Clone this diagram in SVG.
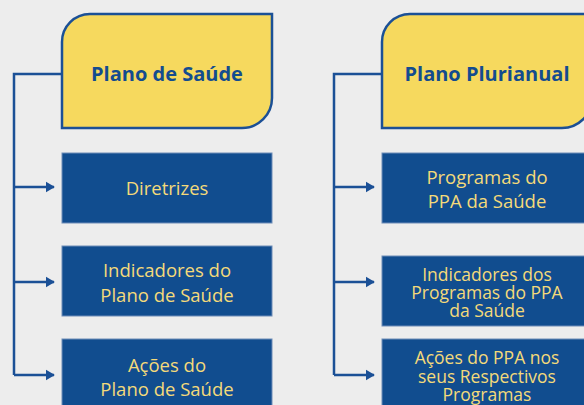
<svg xmlns="http://www.w3.org/2000/svg" width="584" height="405" viewBox="0 0 584 405">
<defs>
<style>
.title{fill:#F6D95E;stroke:#1B5096;stroke-width:2.5}
.box{fill:#114D8F;stroke:#6E8DB8;stroke-width:1}
.tt{font-family:"Open Sans","Liberation Sans",sans-serif;font-weight:bold;font-size:20px;fill:#134C8F;text-anchor:middle}
.bt{font-family:"Open Sans","Liberation Sans",sans-serif;font-size:18.5px;fill:#F4DA7A;text-anchor:middle}
.bt3{font-family:"Open Sans","Liberation Sans",sans-serif;font-size:17.5px;fill:#F4DA7A;text-anchor:middle}
.con{fill:none;stroke:#1B5096;stroke-width:2.5}
</style>
<marker id="ah" viewBox="0 0 10 12" refX="9" refY="6" markerWidth="9" markerHeight="12" markerUnits="userSpaceOnUse" orient="auto">
<path d="M0,0 L10,6 L0,12 Z" fill="#1B5096"/>
</marker>
</defs>
<rect width="584" height="405" fill="#EDEDED"/>
<g id="connectors">
<path class="con" d="M62,74 H14 V375"/>
<path class="con" d="M14,187 H54" marker-end="url(#ah)"/>
<path class="con" d="M14,282 H54" marker-end="url(#ah)"/>
<path class="con" d="M14,375 H54" marker-end="url(#ah)"/>
<path class="con" d="M382,74 H334 V375"/>
<path class="con" d="M334,187 H374" marker-end="url(#ah)"/>
<path class="con" d="M334,282 H374" marker-end="url(#ah)"/>
<path class="con" d="M334,375 H374" marker-end="url(#ah)"/>
</g>
<g id="plano-saude">
<path class="title" d="M90,14 H272 V98 A30,30 0 0 1 242,128 H62 V42 A28,28 0 0 1 90,14 Z"/>
<text class="tt" x="167" y="81">Plano de Saúde</text>
</g>
<g id="diretrizes">
<rect class="box" x="62" y="153" width="210" height="70"/>
<text class="bt" x="167" y="195">Diretrizes</text>
</g>
<g id="indicadores-plano">
<rect class="box" x="62" y="246" width="210" height="70"/>
<text class="bt" x="167" y="277">Indicadores do</text>
<text class="bt" x="167" y="302">Plano de Saúde</text>
</g>
<g id="acoes-plano">
<rect class="box" x="62" y="339" width="210" height="70"/>
<text class="bt" x="167" y="372">Ações do</text>
<text class="bt" x="167" y="396">Plano de Saúde</text>
</g>
<g id="plano-plurianual">
<path class="title" d="M410,14 H592 V98 A30,30 0 0 1 562,128 H382 V42 A28,28 0 0 1 410,14 Z"/>
<text class="tt" x="487" y="81">Plano Plurianual</text>
</g>
<g id="programas-ppa">
<rect class="box" x="382" y="153" width="210" height="70"/>
<text class="bt" x="487" y="184">Programas do</text>
<text class="bt" x="487" y="208">PPA da Saúde</text>
</g>
<g id="indicadores-ppa">
<rect class="box" x="382" y="256" width="210" height="70"/>
<text class="bt3" x="487" y="281">Indicadores dos</text>
<text class="bt3" x="487" y="299">Programas do PPA</text>
<text class="bt3" x="487" y="317">da Saúde</text>
</g>
<g id="acoes-ppa">
<rect class="box" x="382" y="339" width="210" height="70"/>
<text class="bt3" x="487" y="364">Ações do PPA nos</text>
<text class="bt3" x="487" y="383">seus Respectivos</text>
<text class="bt3" x="487" y="401">Programas</text>
</g>
</svg>
